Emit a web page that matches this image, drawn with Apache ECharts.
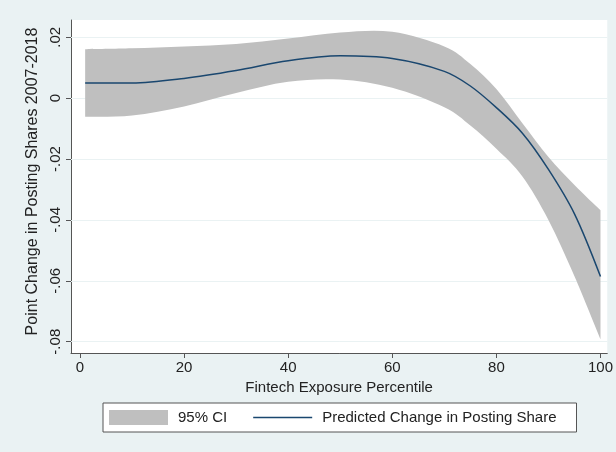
<!DOCTYPE html>
<html>
<head>
<meta charset="utf-8">
<script src="https://cdn.jsdelivr.net/npm/echarts@6/dist/echarts.min.js"></script>
<style>
  html, body { margin: 0; padding: 0; background: #eaf2f3; }
  #chart { width: 616px; height: 452px; }
</style>
</head>
<body>
<div id="chart"></div>
<script>
// Percentile de l'exposition fintech (axe X)
var pct = [1, 10, 20, 30, 40, 50, 60, 70, 75, 80, 85, 90, 95, 100];
// Changement prédit
var predicted = [0.0050, 0.0050, 0.0065, 0.0091, 0.0123, 0.0139, 0.0130, 0.0088, 0.0040, -0.0031, -0.0115, -0.0234, -0.0380, -0.0586];
// Intervalle de confiance 95%
var ciUpper = [0.0161, 0.0164, 0.0170, 0.0178, 0.0196, 0.0216, 0.0218, 0.0170, 0.0112, 0.0030, -0.0082, -0.0193, -0.0285, -0.0368];
var ciLower = [-0.0061, -0.0057, -0.0027, 0.0017, 0.0054, 0.0061, 0.0034, -0.0030, -0.0090, -0.0166, -0.0257, -0.0400, -0.0585, -0.0792];

// Graduations
var xTicks = [0, 20, 40, 60, 80, 100];
var yTicks = [-0.08, -0.06, -0.04, -0.02, 0, 0.02];

// Format Stata : ".02", "-.04", "0"
function stataLabel(v) {
    var s = String(Math.round(v * 100) / 100);
    return s.replace(/^(-?)0\./, '$1.');
}

var lineData = pct.map(function (x, i) { return [x, predicted[i]]; });
var ciData = pct.map(function (x, i) { return [x, ciLower[i], ciUpper[i]]; });

// Courbe lissée (Catmull-Rom -> Bézier) à travers des points en pixels
function splinePath(pts) {
    var n = pts.length;
    var d = '';
    for (var i = 0; i < n - 1; i++) {
        var p0 = pts[Math.max(i - 1, 0)];
        var p1 = pts[i];
        var p2 = pts[i + 1];
        var p3 = pts[Math.min(i + 2, n - 1)];
        var c1x = p1[0] + (p2[0] - p0[0]) / 6;
        var c1y = p1[1] + (p2[1] - p0[1]) / 6;
        var c2x = p2[0] - (p3[0] - p1[0]) / 6;
        var c2y = p2[1] - (p3[1] - p1[1]) / 6;
        d += ' C' + c1x + ',' + c1y + ' ' + c2x + ',' + c2y + ' ' + p2[0] + ',' + p2[1];
    }
    return d;
}

// Dessin de la bande de confiance (un seul polygone)
function renderBand(params, api) {
    if (params.dataIndex !== 0) return;
    var up = pct.map(function (x, i) { return api.coord([x, ciUpper[i]]); });
    var lo = pct.map(function (x, i) { return api.coord([x, ciLower[i]]); }).reverse();
    var d = 'M' + up[0][0] + ',' + up[0][1] + splinePath(up)
          + ' L' + lo[0][0] + ',' + lo[0][1] + splinePath(lo) + ' Z';
    return {
        type: 'path',
        shape: { pathData: d },
        style: { fill: '#bfbfbf', stroke: null }
    };
}

var chartDom = document.getElementById('chart');
var myChart = echarts.init(chartDom);
var option;

var font = 'Liberation Sans';

option = {
    backgroundColor: '#eaf2f3',
    animation: false,
    textStyle: { fontFamily: font },
    grid: {
        left: 71,
        right: 7,
        top: 20,
        bottom: 99,
        show: true,
        backgroundColor: '#ffffff',
        borderWidth: 0
    },
    legend: {
        left: 103,
        top: 403,
        padding: [7, 20, 7, 6],
        itemWidth: 59,
        itemHeight: 15,
        itemGap: 26,
        backgroundColor: '#ffffff',
        borderColor: '#555555',
        borderWidth: 1,
        borderRadius: 0,
        textStyle: { fontFamily: font, fontSize: 15, color: '#222222', padding: [0, 0, 0, 5] },
        data: [
            { name: '95% CI', icon: 'rect' },
            { name: 'Predicted Change in Posting Share', icon: 'path://M0,0L40,0L40,1L0,1Z' }
        ]
    },
    xAxis: {
        type: 'value',
        min: -1.72,
        max: 101.3,
        name: 'Fintech Exposure Percentile',
        nameLocation: 'middle',
        nameGap: 25,
        nameTextStyle: { fontFamily: font, fontSize: 15, color: '#222222' },
        axisLine: { show: true, onZero: false, lineStyle: { color: '#555555', width: 1 } },
        axisTick: { show: true, length: 5, customValues: xTicks, lineStyle: { color: '#555555' } },
        axisLabel: { customValues: xTicks, margin: 7, fontFamily: font, fontSize: 15, color: '#222222' },
        splitLine: { show: false }
    },
    yAxis: {
        type: 'value',
        min: -0.08371,
        max: 0.02568,
        name: 'Point Change in Posting Shares 2007-2018',
        nameLocation: 'middle',
        nameGap: 24,
        nameTextStyle: { fontFamily: font, fontSize: 16, color: '#222222', padding: [0, 0, 0, 10] },
        axisLine: { show: true, onZero: false, lineStyle: { color: '#555555', width: 1 } },
        axisTick: { show: true, length: 5, customValues: yTicks, lineStyle: { color: '#555555' } },
        axisLabel: {
            customValues: yTicks,
            rotate: 90,
            margin: 8,
            fontFamily: font,
            fontSize: 15,
            color: '#222222',
            formatter: stataLabel
        },
        splitLine: { show: false }
    },
    series: [
        {
            name: '95% CI',
            type: 'custom',
            data: ciData,
            encode: { x: 0, y: [1, 2] },
            z: 2,
            silent: true,
            color: '#bfbfbf',
            itemStyle: { color: '#bfbfbf' },
            renderItem: renderBand
        },
        {
            name: 'Predicted Change in Posting Share',
            type: 'line',
            data: lineData,
            smooth: 0.33,
            symbol: 'none',
            z: 3,
            color: '#1a476f',
            itemStyle: { color: '#1a476f' },
            lineStyle: { color: '#1a476f', width: 1.5 },
            // lignes de grille horizontales, sous la bande
            markLine: {
                silent: true,
                z: 1,
                symbol: ['none', 'none'],
                label: { show: false },
                lineStyle: { color: '#eaf2f3', width: 1, type: 'solid' },
                data: yTicks.map(function (v) { return { yAxis: v }; })
            }
        }
    ]
};

// Rendu du graphique
myChart.setOption(option);
</script>
</body>
</html>
